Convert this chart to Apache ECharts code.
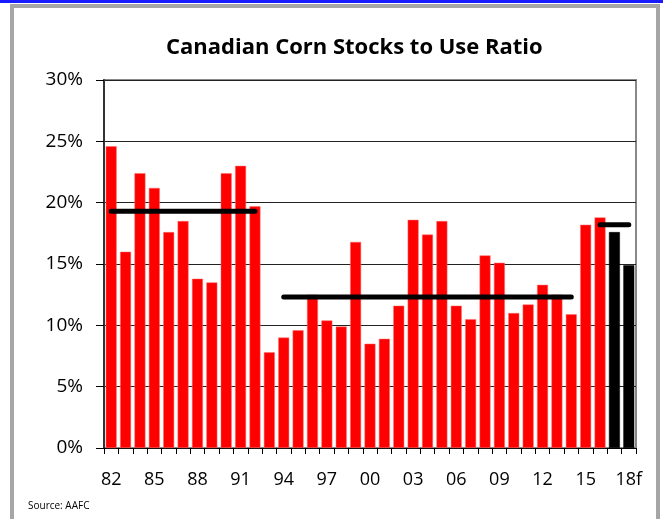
<!DOCTYPE html>
<html>
<head>
<meta charset="utf-8">
<title>Canadian Corn Stocks to Use Ratio</title>
<script src="https://cdn.jsdelivr.net/npm/echarts@6/dist/echarts.min.js"></script>
<style>
  html, body { margin: 0; padding: 0; background: #fff; }
  #chart { width: 663px; height: 519px; }
</style>
</head>
<body>
<div id="chart"></div>
<script>
  // crop years, '82 to '18f
  var years = ['82', '83', '84', '85', '86', '87', '88', '89', '90', '91', '92', '93', '94', '95', '96', '97', '98', '99',
    '00', '01', '02', '03', '04', '05', '06', '07', '08', '09', '10', '11', '12', '13', '14', '15', '16', '17', '18f'];
  // stocks to use ratio, %
  var ratio = [24.6, 16.0, 22.4, 21.2, 17.6, 18.5, 13.8, 13.5, 22.4, 23.0, 19.7, 7.8, 9.0, 9.6, 12.5, 10.4, 9.9, 16.8,
    8.5, 8.9, 11.6, 18.6, 17.4, 18.5, 11.6, 10.5, 15.7, 15.1, 11.0, 11.7, 13.3, 12.5, 10.9, 18.2, 18.8, 17.6, 14.9];
  // which bars are estimates/forecast (drawn black)
  var forecast = ['17', '18f'];
  // period averages
  var avg1 = {from: '82', to: '92', value: 19.3};
  var avg2 = {from: '94', to: '14', value: 12.3};
  var avg3 = {from: '16', to: '18f', value: 18.2};
  var yTicks = [0, 5, 10, 15, 20, 25, 30];

  function avgLine(a) {
    var i0 = years.indexOf(a.from), i1 = years.indexOf(a.to);
    return years.map(function (y, i) { return (i >= i0 && i <= i1) ? a.value : null; });
  }

  var myChart = echarts.init(document.getElementById('chart'));
  var font = 'Open Sans';
  myChart.setOption({
    animation: false,
    backgroundColor: '#fff',
    title: {
      text: 'Canadian Corn Stocks to Use Ratio',
      left: 161,
      top: 32,
      textStyle: {fontFamily: font, fontSize: 22, fontWeight: 'bold', color: '#000'}
    },
    graphic: [
      {type: 'rect', shape: {x: 0, y: 0, width: 663, height: 3}, style: {fill: '#1a1aff'}},
      {type: 'rect', shape: {x: 12, y: 6, width: 646, height: 520}, style: {fill: 'none', stroke: '#a6a6a6', lineWidth: 4}},
      {type: 'rect', shape: {x: 104, y: 80, width: 532, height: 368}, style: {fill: 'none', stroke: '#888', lineWidth: 2}, z: 0},
      {type: 'text', left: 28, top: 501, style: {text: 'Source: AAFC', font: '10px "Open Sans"', fill: '#000'}}
    ],
    grid: {left: 104, right: 27, top: 80, bottom: 71},
    xAxis: {
      type: 'category',
      data: years,
      axisLine: {lineStyle: {color: '#000', width: 1}},
      axisTick: {show: true, interval: 0, length: 6, lineStyle: {color: '#000'}},
      axisLabel: {interval: 2, margin: 23, fontFamily: font, fontSize: 18, color: '#000'}
    },
    yAxis: {
      type: 'value',
      min: 0,
      max: 30,
      interval: 5,
      axisLine: {show: true, lineStyle: {color: '#333', width: 2}},
      axisTick: {show: true, length: 8, lineStyle: {color: '#000'}},
      splitLine: {show: true, lineStyle: {color: '#222', width: 1}},
      axisLabel: {
        margin: 21, fontFamily: font, fontSize: 19, color: '#000',
        formatter: function (v) { return yTicks.indexOf(v) >= 0 ? v + '%' : ''; }
      }
    },
    series: [
      {
        type: 'bar',
        barCategoryGap: '24%',
        data: years.map(function (y, i) {
          var dark = forecast.indexOf(y) >= 0;
          return {value: ratio[i], itemStyle: {color: dark ? '#000' : '#ff0000', borderColor: dark ? '#000' : '#ff6b6b', borderWidth: 0.5}};
        }),
        z: 2
      },
      {type: 'line', data: avgLine(avg1), symbol: 'none', lineStyle: {color: '#000', width: 5, cap: 'round'}, z: 3},
      {type: 'line', data: avgLine(avg2), symbol: 'none', lineStyle: {color: '#000', width: 5, cap: 'round'}, z: 3},
      {type: 'line', data: avgLine(avg3), symbol: 'none', lineStyle: {color: '#000', width: 5, cap: 'round'}, z: 3}
    ]
  });
</script>
</body>
</html>
